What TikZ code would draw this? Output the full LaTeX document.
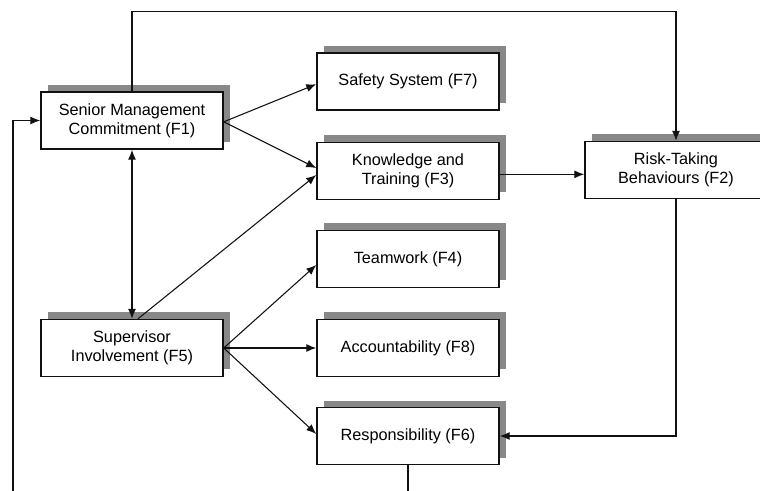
\documentclass[tikz,border=0pt]{standalone}
\usepackage{fontspec}
\setmainfont{Liberation Sans}
\usepackage{tikz}
\usetikzlibrary{arrows.meta,shadows}
\definecolor{ink}{HTML}{111111}
\definecolor{shade}{HTML}{888888}
\tikzset{
  factor/.style={draw=ink, line width=1.1pt, fill=white, align=center,
    minimum width=136.5pt, minimum height=42.75pt, inner sep=2pt,
    font=\fontsize{12.2}{14.3}\selectfont,
    drop shadow={shadow xshift=5.25pt, shadow yshift=5.25pt, fill=shade, opacity=1}},
  link/.style={draw=ink, line width=0.8pt, -{Latex[length=7.5pt,width=6pt]}},
  biglink/.style={link, {Latex[length=7.5pt,width=6pt]}-{Latex[length=7.5pt,width=6pt]}}
}

\begin{document}
\begin{tikzpicture}[x=0.75pt, y=-0.75pt, line cap=butt, line join=miter]
  \useasboundingbox (0,0) rectangle (760,491);
  \clip (0,0) rectangle (760,491);
  % factors
  \node[factor] (F1) at (132,120.5) {Senior Management\\Commitment (F1)};
  \node[factor] (F5) at (132,348) {Supervisor\\Involvement (F5)};
  \node[factor] (F7) at (408,81.5) {Safety System (F7)};
  \node[factor] (F3) at (408,171) {Knowledge and\\Training (F3)};
  \node[factor] (F4) at (408,259) {Teamwork (F4)};
  \node[factor] (F8) at (408,348) {Accountability (F8)};
  \node[factor] (F6) at (408,436) {Responsibility (F6)};
  \node[factor] (F2) at (676,170) {Risk-Taking\\Behaviours (F2)};
  % loose ends
  \coordinate (top) at (400,11.5);
  \coordinate (left) at (13,495);
  \coordinate (bot) at (408,495);
  % links
  \draw[link] (F1.north) |- (top) -| (F2.north);
  \draw[biglink] (F1.south) -- (F5.north);
  \draw[link] ([yshift=-1pt]F1.east) -- ([yshift=-2pt]F7.west);
  \draw[link] ([yshift=-1pt]F1.east) -- ([yshift=2.2pt]F3.west);
  \draw[link] ([xshift=4.5pt]F5.north) -- ([yshift=-3pt]F3.west);
  \draw[link] ([yshift=-2.5pt]F3.east) -- ([yshift=-2.5pt]F3.east -| F2.west);
  \draw[link] (F5.east) -- ([yshift=-4.5pt]F4.west);
  \draw[link] (F5.east) -- (F8.west);
  \draw[link] (F5.east) -- ([yshift=1.5pt]F6.west);
  \draw[link] (F2.south) |- (F6.east);
  \draw[draw=ink, line width=0.8pt] (F6.south) -- (bot);
  \draw[link] (left) |- (F1.west);
\end{tikzpicture}
\end{document}
